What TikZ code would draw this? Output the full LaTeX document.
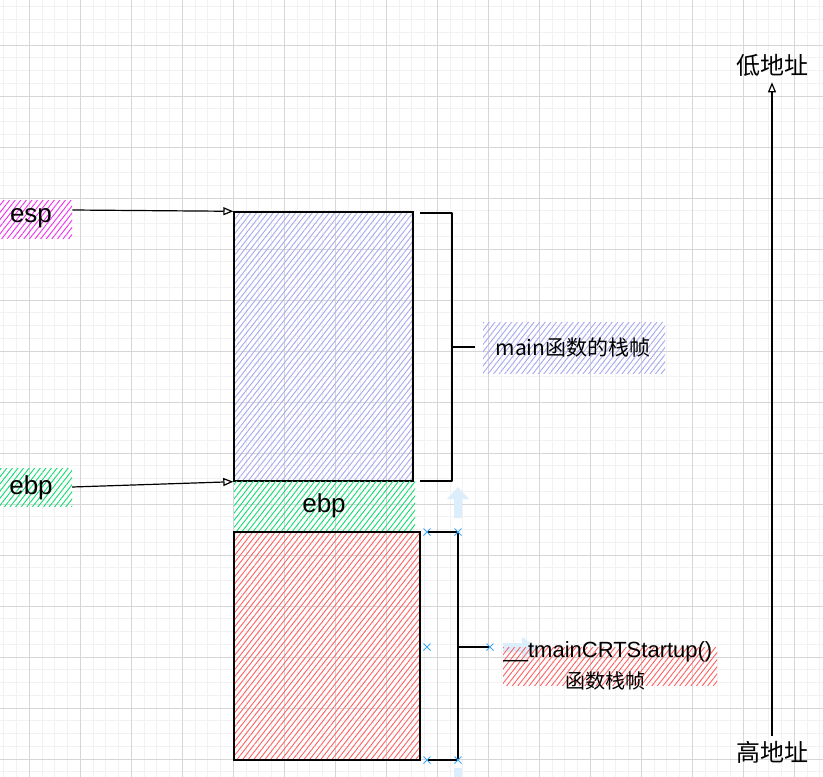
\documentclass[tikz,border=0pt]{standalone}
\usepackage{fontspec}
\setmainfont{Noto Sans CJK SC}
\newfontfamily\latinfont{Liberation Sans}
\usetikzlibrary{arrows.meta,patterns.meta}
\definecolor{lavhatch}{HTML}{A8A8F0}
\definecolor{redhatch}{HTML}{FF6060}
\definecolor{greenhatch}{HTML}{10DC70}
\definecolor{pinkhatch}{HTML}{EE30EE}
\definecolor{selblue}{HTML}{3FA9F5}
\definecolor{ghostblue}{HTML}{DCEEFC}
\definecolor{minorgrid}{HTML}{F2F2F2}
\definecolor{majorgrid}{HTML}{D6D6D6}
\tikzset{
  hatch/.style={pattern={Lines[angle=52,distance=4.4pt,line width=0.9pt]}, pattern color=#1},
  framebox/.style={draw=black, line width=1.4pt, inner sep=0pt},
  lbl/.style={font=\fontsize{26}{30}\selectfont, text=black},
  cjklbl/.style={font=\fontsize{20}{24}\selectfont, text=black},
  arr/.style={draw=black, line width=1.2pt, -{Triangle[open,length=10pt,width=8pt]}},
  brk/.style={draw=black, line width=1.4pt, line join=round},
  selmark/.style={draw=selblue, line width=1pt},
}
\begin{document}
\begin{tikzpicture}[x=1pt,y=-1pt]
\useasboundingbox (0,0) rectangle (823,777);
\fill[white] (0,0) rectangle (823,777);
% grid
\foreach \i in {0,...,67} {
  \draw[minorgrid, line width=0.8pt] ({-21.7+12.75*\i},0) -- ({-21.7+12.75*\i},777);
}
\foreach \j in {0,...,62} {
  \draw[minorgrid, line width=0.8pt] (0,{-6+12.75*\j}) -- (823,{-6+12.75*\j});
}
\foreach \i in {0,...,16} {
  \draw[majorgrid, line width=0.8pt] ({29.3+51*\i},0) -- ({29.3+51*\i},777);
}
\foreach \j in {1,...,16} {
  \draw[majorgrid, line width=0.8pt] (0,{-6+51*\j}) -- (823,{-6+51*\j});
}

% ghost selection arrows
\fill[ghostblue] (458,487) -- (469,499) -- (462,499) -- (462,518) -- (454,518) -- (454,499) -- (447,499) -- cycle;
\fill[ghostblue] (503,643) -- (522,643) -- (522,637) -- (538,648) -- (522,659) -- (522,652) -- (503,652) -- cycle;
\fill[ghostblue] (454,768) rectangle (462,777);

% left labels
\node[hatch=pinkhatch, minimum width=72pt, minimum height=38pt, inner sep=0pt] (esp) at (36,219) {};
\node[lbl] at (31,218) {\latinfont esp};
\node[hatch=greenhatch, minimum width=72pt, minimum height=38pt, inner sep=0pt] (ebp) at (36,487) {};
\node[lbl] at (31,488) {\latinfont ebp};

% main frame
\node[framebox, hatch=lavhatch, minimum width=179pt, minimum height=269pt] (mainbox) at (323.5,346.5) {};
% saved ebp
\node[hatch=greenhatch, minimum width=181pt, minimum height=49pt, inner sep=0pt] (ebpbox) at (324.5,505.5) {};
\node[lbl] at (324,506) {\latinfont ebp};
% crt frame
\node[framebox, hatch=redhatch, minimum width=186pt, minimum height=228pt] (crtbox) at (327,646) {};

% arrows
\draw[arr] ([yshift=9pt]esp.east) -- (mainbox.north west);
\draw[arr] (ebp.east) -- (mainbox.south west);

% bracket 1
\coordinate (b1t) at (420,213);
\coordinate (b1tr) at (452,213);
\coordinate (b1br) at (452,481);
\coordinate (b1b) at (420,481);
\coordinate (b1m) at (452,347);
\coordinate (b1k) at (475,347);
\draw[brk] (b1t) -- (b1tr) -- (b1br) -- (b1b);
\draw[brk] (b1m) -- (b1k);
\node[hatch=lavhatch, minimum width=182pt, minimum height=51pt, inner sep=0pt] (mainlbl) at (574,347.5) {};
\node[cjklbl, font=\fontsize{21}{25}\selectfont] at (573,348) {main函数的栈帧};

% bracket 2
\coordinate (b2t) at (427,532);
\coordinate (b2tr) at (458,532);
\coordinate (b2br) at (458,760);
\coordinate (b2b) at (427,760);
\coordinate (b2m) at (458,647);
\coordinate (b2k) at (490,647);
\draw[brk] (b2t) -- (b2tr) -- (b2br) -- (b2b);
\draw[brk] (b2m) -- (b2k);
\node[hatch=redhatch, minimum width=214pt, minimum height=38pt, inner sep=0pt] (crtlbl) at (610,666) {};
\node[font=\fontsize{22}{26}\selectfont] at (608,652) {\latinfont \_\_tmainCRTStartup()};
\node[cjklbl] at (605,681) {函数栈帧};

% selection marks
\foreach \p in {(427,532),(458,532),(427,647),(490,647),(427,760),(458,760)} {
  \draw[selmark] \p ++(-3.5,-3.5) -- ++(7,7) ++(-7,0) -- ++(7,-7);
}

% address axis
\node[font=\fontsize{24}{28}\selectfont, inner sep=6pt] (low) at (772,65) {低地址};
\node[font=\fontsize{24}{28}\selectfont, inner sep=5pt] (high) at (772,752) {高地址};
\draw[arr] (high) -- (low);
\end{tikzpicture}
\end{document}
